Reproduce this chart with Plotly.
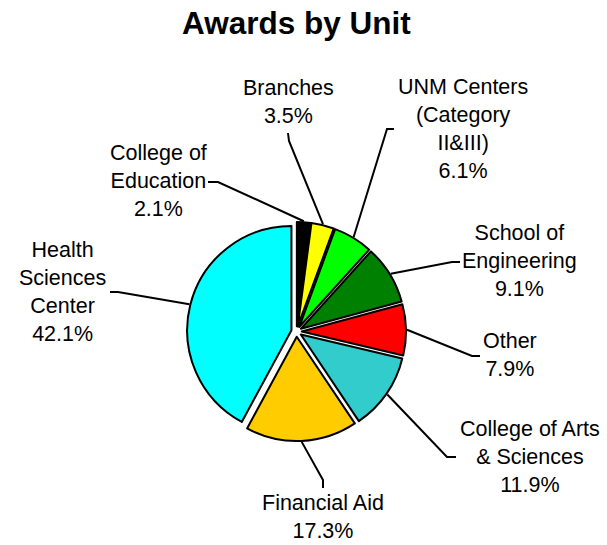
import math
import plotly.graph_objects as go

# ---- data ----
units = ["College of Education", "Branches", "UNM Centers (Category II&III)",
         "School of Engineering", "Other", "College of Arts & Sciences",
         "Financial Aid", "Health Sciences Center"]
label_lines = ["College of<br>Education", "Branches", "UNM Centers<br>(Category<br>II&III)",
               "School of<br>Engineering", "Other", "College of Arts<br>& Sciences",
               "Financial Aid", "Health<br>Sciences<br>Center"]
shares = [2.1, 3.5, 6.1, 9.1, 7.9, 11.9, 17.3, 42.1]
colors = ["#000000", "#FFFF00", "#00FF00", "#008000", "#FF0000", "#33CCCC", "#FFCC00", "#00FFFF"]

# ---- layout (pixels) ----
W, H = 607, 545
CX, CY = 296.5, 331.5
RO = 109.5
PULL = 0.05
FONT = "Liberation Sans, Arial, sans-serif"

# label text centres, leader-line start and elbow points (pixels)
text_pos = [(158, 181), (288, 102), (463, 129), (519.5, 261), (510, 355),
            (530, 457), (323, 517), (62.5, 292)]
line_start = [(208, 182), (288, 133), (394, 129), (460, 262), (480, 356),
              (456, 457), (323, 488), (110, 292)]
line_elbow = [(218, 182), (289, 141), (387, 129), (452, 262), (472, 356),
              (447, 457), (323, 480), (118, 292)]


def px(x):
    return x / W


def py(y):
    return 1 - y / H


fig = go.Figure(go.Pie(
    labels=units, values=shares, sort=False, direction="clockwise", rotation=0,
    pull=PULL, marker=dict(colors=colors, line=dict(color="black", width=2)),
    textinfo="none", showlegend=False,
    domain=dict(x=[px(CX - RO), px(CX + RO)], y=[py(CY + RO), py(CY - RO)]),
))

total = sum(shares)
annotations = []
shapes = []
cum = 0.0
for i, v in enumerate(shares):
    mid = (cum + v / 2) / total * 2 * math.pi
    cum += v
    ex = CX + (RO + 1) * math.sin(mid)
    ey = CY - (RO + 1) * math.cos(mid)
    tx, ty = text_pos[i]
    annotations.append(dict(
        x=px(tx), y=py(ty), xref="paper", yref="paper", xanchor="center", yanchor="middle",
        text=f"{label_lines[i]}<br>{v:.1f}%", showarrow=False, align="center",
        borderpad=0, font=dict(family=FONT, size=21.5, color="black")))
    (sx, sy), (kx, ky) = line_start[i], line_elbow[i]
    shapes.append(dict(
        type="path", xref="paper", yref="paper",
        path=f"M {px(sx)} {py(sy)} L {px(kx)} {py(ky)} L {px(ex)} {py(ey)}",
        line=dict(color="black", width=2)))

annotations.append(dict(
    x=px(296.5), y=py(23), xref="paper", yref="paper", xanchor="center", yanchor="middle",
    text="<b>Awards by Unit</b>", showarrow=False,
    font=dict(family=FONT, size=31.5, color="black")))

fig.update_layout(
    width=W, height=H, margin=dict(l=0, r=0, t=0, b=0),
    paper_bgcolor="white", plot_bgcolor="white",
    annotations=annotations, shapes=shapes,
)

fig.write_html("out.html", config={"displayModeBar": False},
               post_script="document.body.style.margin='0';")
